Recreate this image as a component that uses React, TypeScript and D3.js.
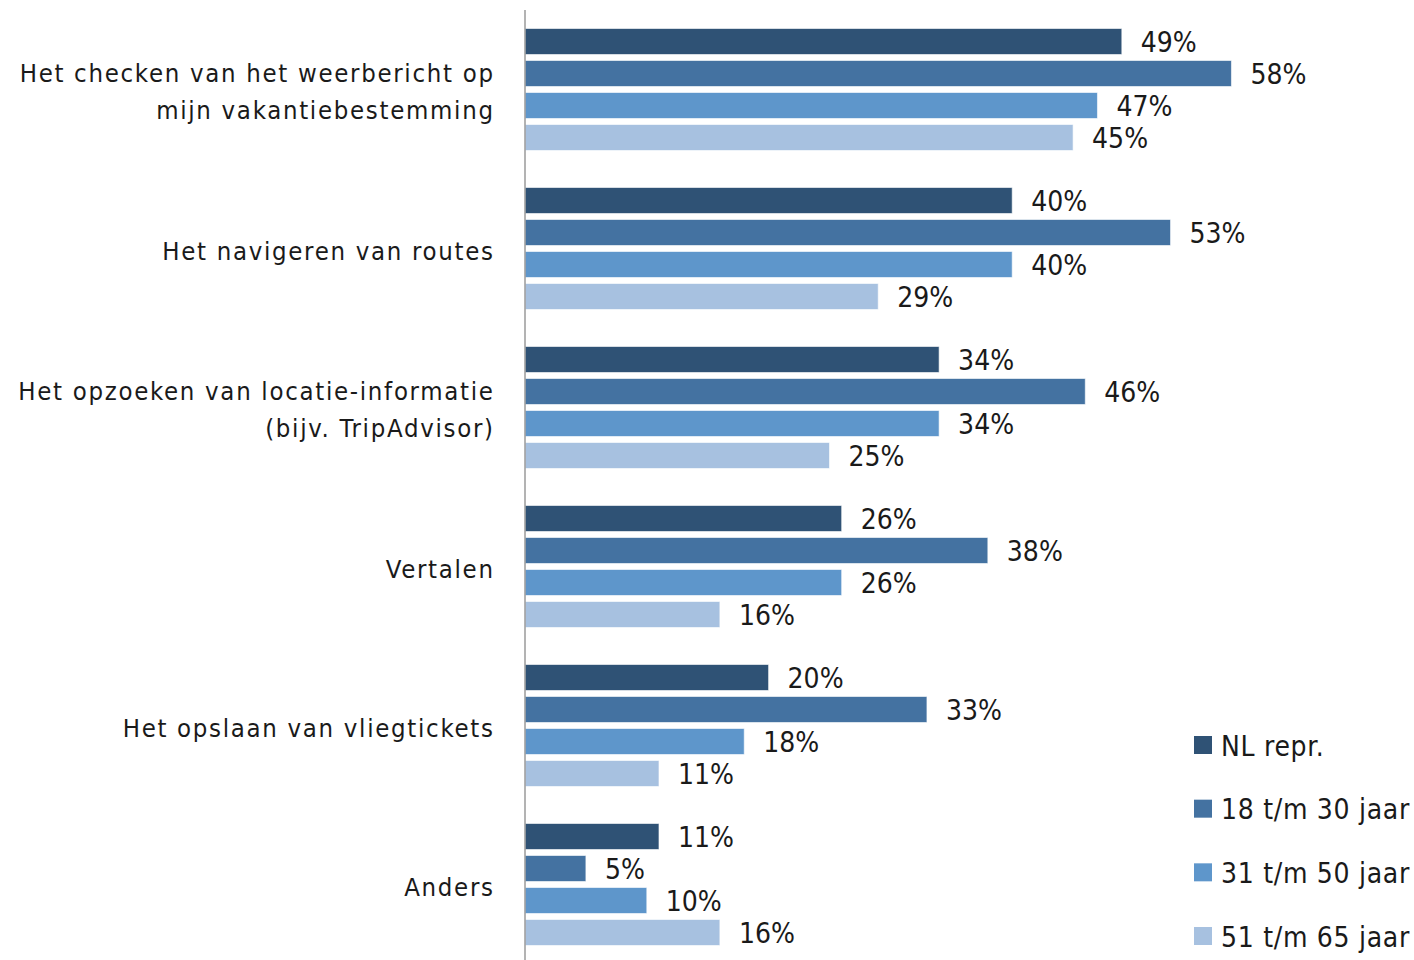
import React from "react";
import * as d3 from "d3";

const categories = [
  "Het checken van het weerbericht op\nmijn vakantiebestemming",
  "Het navigeren van routes",
  "Het opzoeken van locatie-informatie\n(bijv. TripAdvisor)",
  "Vertalen",
  "Het opslaan van vliegtickets",
  "Anders",
];
const seriesNames = ["NL repr.", "18 t/m 30 jaar", "31 t/m 50 jaar", "51 t/m 65 jaar"];
const nlRepr = [49, 40, 34, 26, 20, 11];
const age18to30 = [58, 53, 46, 38, 33, 5];
const age31to50 = [47, 40, 34, 26, 18, 10];
const age51to65 = [45, 29, 25, 16, 11, 16];
const seriesColors = ["#2F5275", "#4472A1", "#5E96CB", "#A7C1E0"];

const W = 1414;
const H = 960;
const FONT = "'DejaVu Sans Condensed', 'Liberation Sans Narrow', 'Roboto Condensed', sans-serif";

export default function App() {
  const seriesValues = [nlRepr, age18to30, age31to50, age51to65];
  const x = d3.scaleLinear().domain([0, 60]).range([525, 525 + 0.6 * 1218]);
  const y = d3.scaleBand<string>().domain(categories).range([10, 964]).padding(0);
  const inner = d3
    .scaleBand<number>()
    .domain(d3.range(seriesNames.length))
    .range([0, 122])
    .paddingInner(6 / 32)
    .paddingOuter(0);
  const groupOffset = (y.bandwidth() - 122) / 2;
  const legendY = d3.scalePoint<number>().domain(d3.range(seriesNames.length)).range([745, 936]);

  return (
    <svg
      width={W}
      height={H}
      style={{ position: "absolute", left: 0, top: 0, background: "#fff" }}
      fontFamily={FONT}
    >
      {categories.map((cat, ci) => {
        const gy = y(cat)!;
        const lines = cat.split("\n");
        const cy = gy + y.bandwidth() / 2 + 2;
        const lh = 37;
        return (
          <g key={cat}>
            {lines.map((ln, li) => (
              <text
                key={li}
                x={494.7}
                y={cy + (li - (lines.length - 1) / 2) * lh}
                textAnchor="end"
                dominantBaseline="central"
                fontSize={25.5}
                letterSpacing={1.7}
                fill="#1a1a1a"
              >
                {ln}
              </text>
            ))}
            {seriesValues.map((vals, si) => {
              const by = gy + groupOffset + inner(si)!;
              const v = vals[ci];
              return (
                <g key={si}>
                  <rect
                    x={x(0)}
                    y={by}
                    width={x(v) - x(0)}
                    height={inner.bandwidth()}
                    fill={seriesColors[si]}
                    stroke="#ffffff"
                    strokeOpacity={0.6}
                    strokeWidth={1}
                  />
                  <text
                    x={x(v) + 19}
                    y={by + inner.bandwidth() / 2 + 1}
                    dominantBaseline="central"
                    fontSize={28}
                    fill="#1a1a1a"
                  >
                    {v + "%"}
                  </text>
                </g>
              );
            })}
          </g>
        );
      })}
      <line x1={525} x2={525} y1={10} y2={960} stroke="#9a9a9a" strokeWidth={1.5} />
      {seriesNames.map((s, si) => (
        <g key={s} transform={`translate(1194,${legendY(si)})`}>
          <rect x={0} y={-9} width={18} height={18} fill={seriesColors[si]} />
          <text x={27} y={1} dominantBaseline="central" fontSize={28} letterSpacing={0.7} fill="#1a1a1a">
            {s}
          </text>
        </g>
      ))}
    </svg>
  );
}
